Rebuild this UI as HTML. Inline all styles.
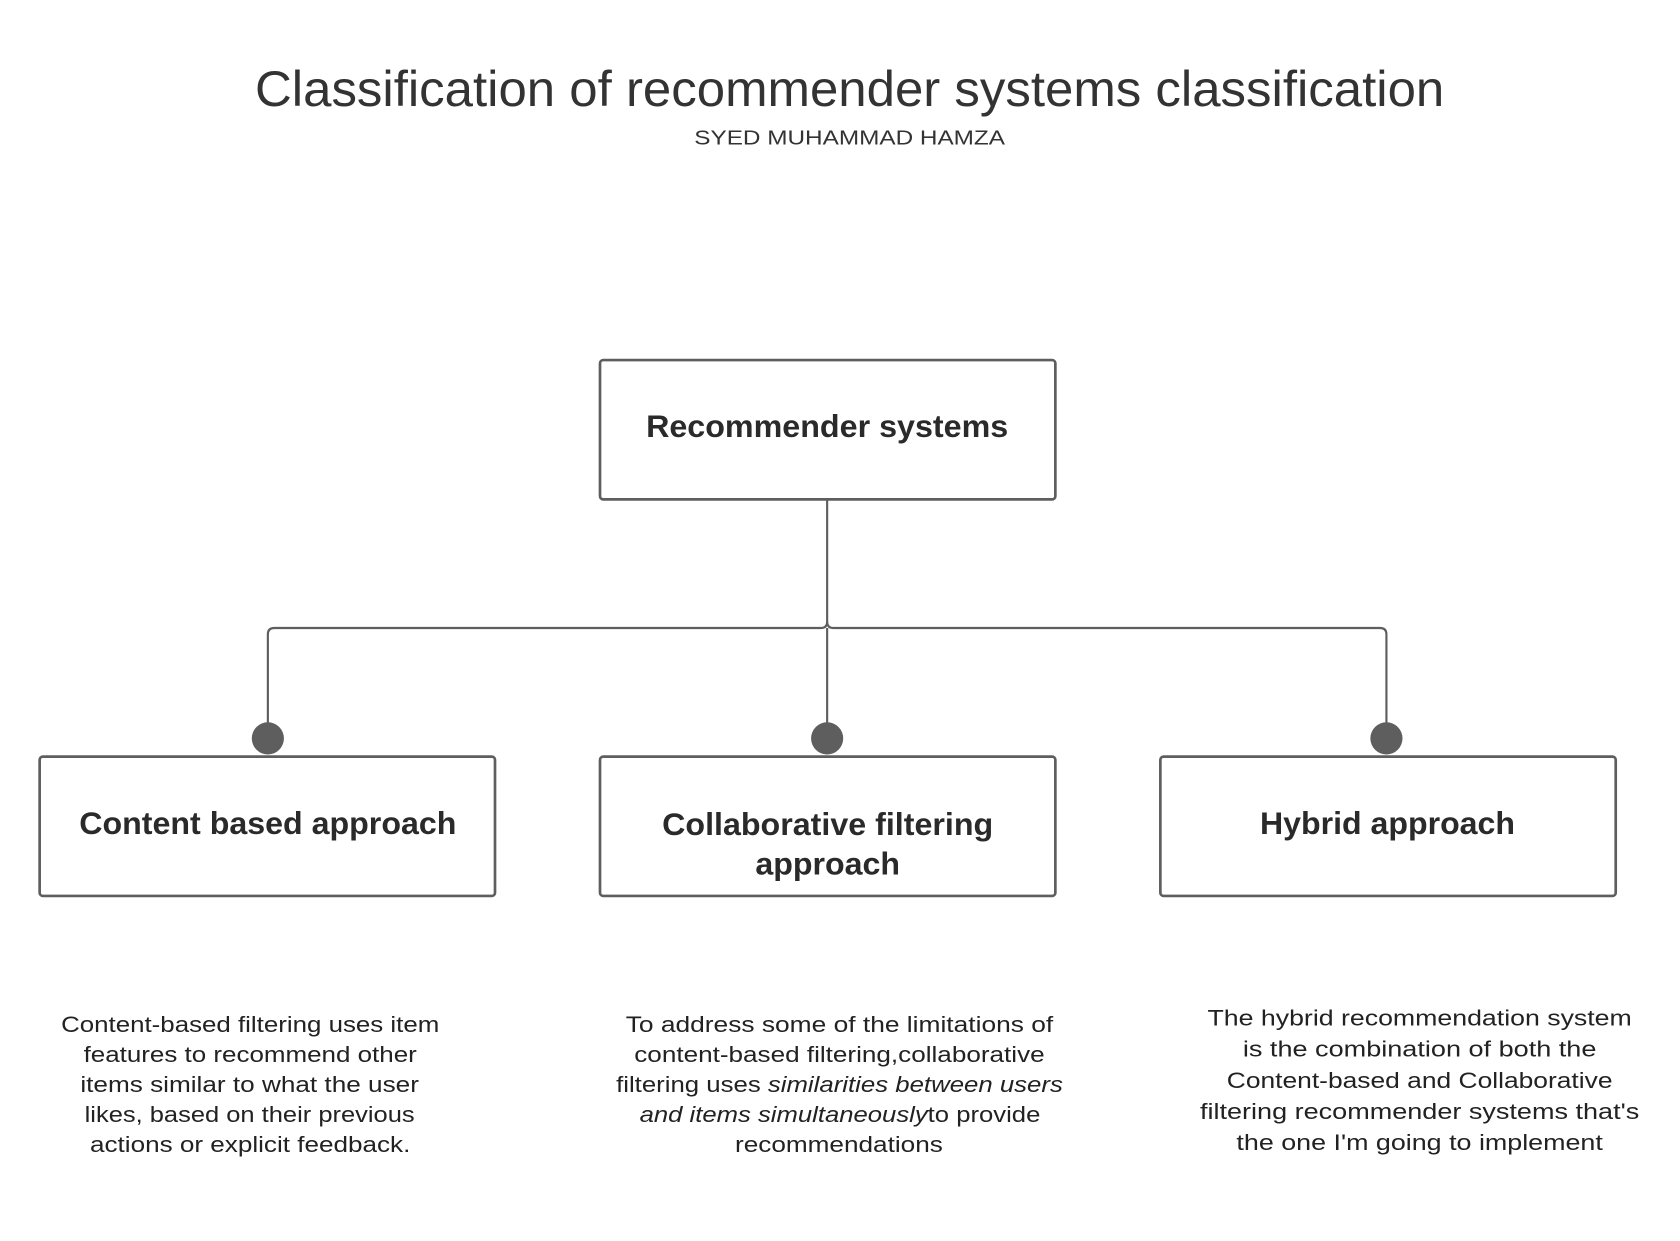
<!DOCTYPE html>
<html><head><meta charset="utf-8"><style>html,body{margin:0;padding:0;background:#fff}svg{display:block}</style></head>
<body>
<svg width="1680" height="1241" viewBox="0 0 1568 1158" preserveAspectRatio="none" xmlns="http://www.w3.org/2000/svg" font-family="Liberation Sans, sans-serif">
<rect width="1568" height="1158" fill="#fff"/>
<text x="238" y="99" font-size="47" fill="#333" textLength="1110" lengthAdjust="spacingAndGlyphs">Classification of recommender systems classification</text>
<text x="648" y="135" font-size="19" fill="#333" textLength="290" lengthAdjust="spacingAndGlyphs">SYED MUHAMMAD HAMZA</text>
<g fill="none" stroke="#5e5e5e" stroke-width="2">
<path d="M772 467 V580 Q772 586 766 586 H256 Q250 586 250 592 V690"/>
<path d="M772 580 Q772 586 778 586 H1288 Q1294 586 1294 592 V690"/>
<path d="M772 586 V690"/>
</g>
<g fill="#5e5e5e"><circle cx="250" cy="689" r="15"/><circle cx="772" cy="689" r="15"/><circle cx="1294" cy="689" r="15"/></g>
<g fill="#fff" stroke="#5e5e5e" stroke-width="2.5">
<rect x="560" y="336" width="425" height="130" rx="3"/>
<rect x="37" y="706" width="425" height="130" rx="3"/>
<rect x="560" y="706" width="425" height="130" rx="3"/>
<rect x="1083" y="706" width="425" height="130" rx="3"/>
</g>
<g font-size="29" font-weight="bold" fill="#2a2a2a">
<text x="603" y="408" textLength="338" lengthAdjust="spacingAndGlyphs">Recommender systems</text>
<text x="74" y="778" textLength="352" lengthAdjust="spacingAndGlyphs">Content based approach</text>
<text x="618" y="779" textLength="309" lengthAdjust="spacingAndGlyphs">Collaborative filtering</text>
<text x="705" y="816" textLength="135" lengthAdjust="spacingAndGlyphs">approach</text>
<text x="1176" y="778" textLength="238" lengthAdjust="spacingAndGlyphs">Hybrid approach</text>
</g>
<g font-size="21" fill="#222">
<text x="57" y="963" textLength="353" lengthAdjust="spacingAndGlyphs">Content-based filtering uses item</text>
<text x="78" y="991" textLength="311" lengthAdjust="spacingAndGlyphs">features to recommend other</text>
<text x="75" y="1019" textLength="316" lengthAdjust="spacingAndGlyphs">items similar to what the user</text>
<text x="79" y="1047" textLength="308" lengthAdjust="spacingAndGlyphs">likes, based on their previous</text>
<text x="84" y="1075" textLength="299" lengthAdjust="spacingAndGlyphs">actions or explicit feedback.</text>
<text x="584" y="963" textLength="399" lengthAdjust="spacingAndGlyphs">To address some of the limitations of</text>
<text x="592" y="991" textLength="383" lengthAdjust="spacingAndGlyphs">content-based filtering,collaborative</text>
<text x="575" y="1019" textLength="417" lengthAdjust="spacingAndGlyphs">filtering uses <tspan font-style="italic">similarities between users</tspan></text>
<text x="597" y="1047" textLength="374" lengthAdjust="spacingAndGlyphs"><tspan font-style="italic">and items simultaneously</tspan>to provide</text>
<text x="686" y="1075" textLength="194" lengthAdjust="spacingAndGlyphs">recommendations</text>
<text x="1127" y="957" textLength="396" lengthAdjust="spacingAndGlyphs">The hybrid recommendation system</text>
<text x="1160" y="986" textLength="330" lengthAdjust="spacingAndGlyphs">is the combination of both the</text>
<text x="1145" y="1015" textLength="360" lengthAdjust="spacingAndGlyphs">Content-based and Collaborative</text>
<text x="1120" y="1044" textLength="410" lengthAdjust="spacingAndGlyphs">filtering recommender systems that's</text>
<text x="1154" y="1073" textLength="342" lengthAdjust="spacingAndGlyphs">the one I'm going to implement</text>
</g>
</svg>
</body></html>
